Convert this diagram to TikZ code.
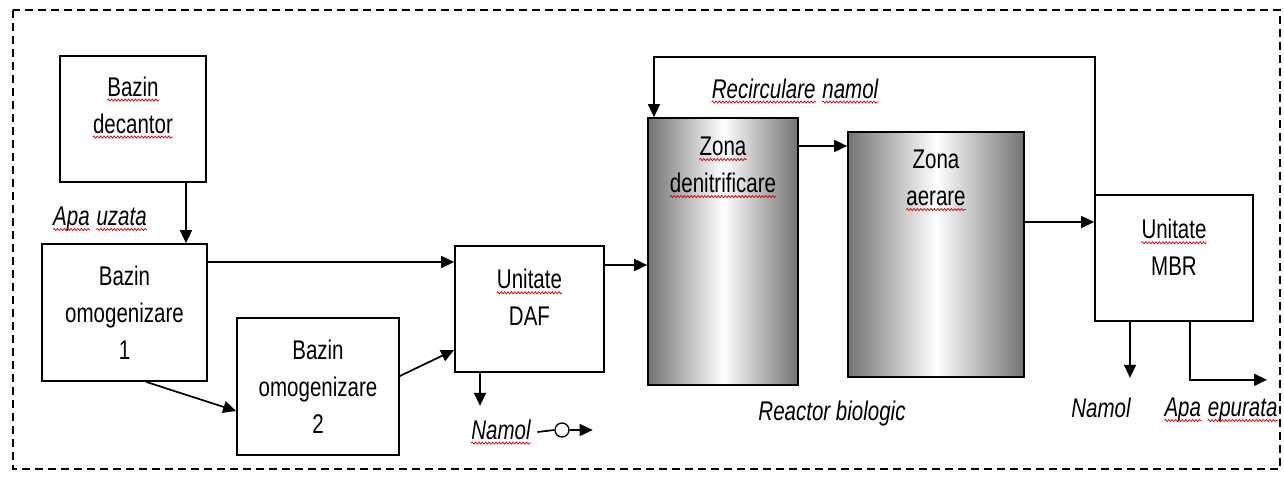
\documentclass[tikz,border=0pt]{standalone}
\usepackage{fontspec}
\setmainfont[FakeStretch=0.76]{Liberation Sans}
\usetikzlibrary{arrows.meta,decorations.pathmorphing}

% red wavy underline under a word
\newcommand\spell[1]{\tikz[baseline=0pt,x=1pt,y=1pt]{%
  \node[inner sep=0pt,anchor=base] (sw) at (0,0) {#1};
  \draw[red!80!black,line width=0.7pt,decorate,
    decoration={snake,segment length=3.4pt,amplitude=1.1pt}]
    ([yshift=-4pt]sw.base west) -- ([yshift=-4pt]sw.base east);}}

\begin{document}
\begin{tikzpicture}[x=1pt,y=-1pt,line width=1.7pt,
  box/.style={draw,rectangle,inner sep=0pt},
  zone/.style={box,left color=black!55,right color=black!55,middle color=white},
  txt/.style={align=center,inner sep=0pt,font=\fontsize{27}{37}\selectfont},
  note/.style={inner sep=0pt,font=\fontsize{27}{28}\selectfont\itshape},
  flow/.style={-{Triangle[length=13pt,width=12pt]}}]
\useasboundingbox (0,0) rectangle (1284,477);
\draw[line width=1.4pt,dash pattern=on 8pt off 5pt] (13,10) rectangle (1280,469);

% tanks
\node[box,minimum width=146,minimum height=126] (dec) at (133,119) {};
\node[box,minimum width=165,minimum height=137] (om1) at (124.5,312.5) {};
\node[box,minimum width=162,minimum height=137] (om2) at (318,386.5) {};
\node[box,minimum width=149,minimum height=126] (daf) at (529.5,309) {};
\node[zone,minimum width=150,minimum height=267] (dn) at (723,251.5) {};
\node[zone,minimum width=176,minimum height=245] (aer) at (936,254.5) {};
\node[box,minimum width=158,minimum height=126] (mbr) at (1174,258) {};

\node[txt] (dect) at (133,107.5) {\spell{Bazin}\\\spell{decantor}};
\node[txt] (om1t) at (124.5,313) {Bazin\\omogenizare\\1};
\node[txt] (om2t) at (318,387) {Bazin\\omogenizare\\2};
\node[txt] (daft) at (529.5,297.5) {\spell{Unitate}\\DAF};
\node[txt] (dnt) at (723,167.5) {\spell{Zona}\\\spell{denitrificare}};
\node[txt] (aert) at (936,180.5) {Zona\\\spell{aerare}};
\node[txt] (mbrt) at (1174,247.5) {\spell{Unitate}\\MBR};

% labels
\node[note] (uz) at (100,219) {\spell{Apa} \spell{uzata}};
\node[note] (rec) at (795,91) {\spell{Recirculare} \spell{namol}};
\node[note] (nam1) at (501,432) {\spell{Namol}};
\node[note] (rb) at (832,414) {Reactor biologic};
\node[note] (nam2) at (1101,408) {Namol};
\node[note] (ep) at (1221,410) {\spell{Apa} \spell{epurata}};

% flows
\draw[flow] ([xshift=53]dec.south) -- ([xshift=53]dec.south |- om1.north);
\draw[flow] ([yshift=50.5]om1.east) -- ([yshift=50.5]om1.east -| daf.west);
\draw[flow] ([xshift=21.5]om1.south) -- ([yshift=-24.5]om2.west);
\draw[flow] ([yshift=10.5]om2.east) -- ([yshift=-41]daf.west);
\draw[flow] ([yshift=44]daf.east) -- ([yshift=44]daf.east -| dn.west);
\draw[flow] ([yshift=105.5]dn.east) -- ([yshift=105.5]dn.east -| aer.west);
\draw[flow] ([yshift=32.5]aer.east) -- ([yshift=32.5]aer.east -| mbr.west);

% recirculation
\coordinate (rc) at (654,57);
\draw[flow] ([xshift=1]mbr.north west) |- (rc) -- (rc |- dn.north);

% sludge and outlet
\draw[flow] ([xshift=-49.5]daf.south) -- ++(0,33);
\node[draw,circle,line width=1.3pt,inner sep=0pt,minimum size=14] (pump) at (562,430) {};
\draw ([xshift=6]nam1.east) -- (pump.west);
\draw[flow] (pump.east) -- ++(23,0);
\draw[flow] ([xshift=-44]mbr.south) -- ++(0,56);
\draw[flow] ([xshift=16]mbr.south) |- ++(77,58);
\end{tikzpicture}
\end{document}
